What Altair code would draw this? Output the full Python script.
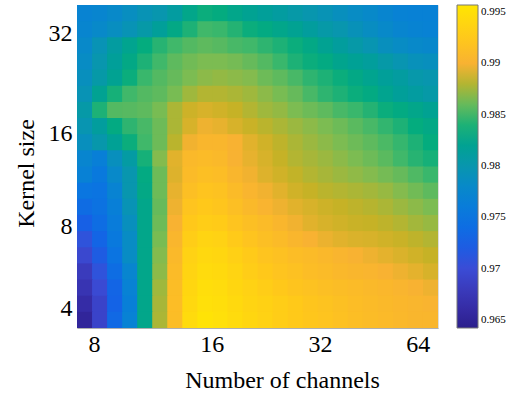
import altair as alt
import pandas as pd

# ---- values (top row = largest kernel size) ----
r00 = [0.9772,0.9775,0.9780,0.9788,0.9795,0.9800,0.9810,0.9825,0.9835,0.9832,0.9825,0.9820,0.9815,0.9810,0.9805,0.9800,0.9795,0.9790,0.9785,0.9780,0.9775,0.9770,0.9768,0.9768]
r01 = [0.9775,0.9780,0.9788,0.9795,0.9805,0.9815,0.9828,0.9840,0.9850,0.9848,0.9842,0.9835,0.9830,0.9825,0.9820,0.9812,0.9805,0.9800,0.9793,0.9787,0.9780,0.9775,0.9772,0.9770]
r02 = [0.9780,0.9795,0.9810,0.9822,0.9833,0.9843,0.9850,0.9855,0.9858,0.9856,0.9852,0.9850,0.9845,0.9840,0.9835,0.9828,0.9820,0.9812,0.9805,0.9798,0.9790,0.9785,0.9780,0.9778]
r03 = [0.9785,0.9800,0.9815,0.9828,0.9840,0.9850,0.9858,0.9863,0.9866,0.9866,0.9864,0.9860,0.9855,0.9848,0.9840,0.9835,0.9830,0.9823,0.9818,0.9813,0.9805,0.9798,0.9792,0.9790]
r04 = [0.9790,0.9805,0.9820,0.9835,0.9848,0.9855,0.9860,0.9866,0.9870,0.9872,0.9870,0.9868,0.9862,0.9858,0.9852,0.9845,0.9840,0.9835,0.9828,0.9822,0.9815,0.9810,0.9803,0.9800]
r05 = [0.9795,0.9820,0.9838,0.9850,0.9855,0.9858,0.9865,0.9875,0.9880,0.9880,0.9878,0.9875,0.9870,0.9865,0.9860,0.9852,0.9845,0.9840,0.9835,0.9830,0.9822,0.9815,0.9810,0.9805]
r06 = [0.9805,0.9840,0.9855,0.9856,0.9858,0.9865,0.9878,0.9887,0.9890,0.9888,0.9885,0.9880,0.9875,0.9872,0.9866,0.9862,0.9858,0.9852,0.9848,0.9842,0.9835,0.9830,0.9825,0.9820]
r07 = [0.9798,0.9812,0.9830,0.9845,0.9852,0.9862,0.9878,0.9890,0.9897,0.9895,0.9890,0.9886,0.9882,0.9878,0.9874,0.9870,0.9866,0.9862,0.9857,0.9852,0.9846,0.9840,0.9833,0.9828]
r08 = [0.9790,0.9802,0.9818,0.9835,0.9850,0.9862,0.9882,0.9898,0.9905,0.9905,0.9900,0.9893,0.9888,0.9883,0.9878,0.9874,0.9870,0.9866,0.9862,0.9858,0.9853,0.9847,0.9840,0.9833]
r09 = [0.9775,0.9765,0.9790,0.9808,0.9838,0.9868,0.9893,0.9908,0.9910,0.9908,0.9900,0.9895,0.9890,0.9885,0.9880,0.9877,0.9874,0.9870,0.9866,0.9862,0.9857,0.9850,0.9843,0.9838]
r10 = [0.9768,0.9755,0.9780,0.9800,0.9830,0.9862,0.9892,0.9910,0.9915,0.9913,0.9905,0.9898,0.9892,0.9888,0.9884,0.9880,0.9877,0.9874,0.9871,0.9868,0.9864,0.9860,0.9854,0.9848]
r11 = [0.9750,0.9748,0.9772,0.9800,0.9828,0.9862,0.9895,0.9915,0.9920,0.9918,0.9910,0.9903,0.9898,0.9893,0.9888,0.9885,0.9882,0.9880,0.9878,0.9876,0.9873,0.9868,0.9863,0.9858]
r12 = [0.9738,0.9745,0.9765,0.9795,0.9825,0.9860,0.9897,0.9920,0.9925,0.9922,0.9915,0.9908,0.9902,0.9897,0.9893,0.9890,0.9887,0.9885,0.9883,0.9881,0.9878,0.9874,0.9870,0.9866]
r13 = [0.9725,0.9740,0.9760,0.9790,0.9825,0.9862,0.9900,0.9925,0.9930,0.9928,0.9920,0.9915,0.9910,0.9905,0.9898,0.9893,0.9890,0.9888,0.9886,0.9885,0.9883,0.9880,0.9876,0.9873]
r14 = [0.9708,0.9730,0.9755,0.9785,0.9825,0.9865,0.9905,0.9930,0.9937,0.9935,0.9927,0.9920,0.9915,0.9910,0.9905,0.9900,0.9896,0.9893,0.9891,0.9890,0.9888,0.9886,0.9883,0.9880]
r15 = [0.9695,0.9720,0.9748,0.9785,0.9825,0.9868,0.9908,0.9935,0.9942,0.9940,0.9933,0.9927,0.9920,0.9917,0.9913,0.9910,0.9907,0.9903,0.9900,0.9897,0.9894,0.9891,0.9888,0.9885]
r16 = [0.9680,0.9708,0.9740,0.9775,0.9825,0.9870,0.9910,0.9938,0.9945,0.9943,0.9937,0.9930,0.9925,0.9920,0.9917,0.9913,0.9910,0.9907,0.9905,0.9903,0.9900,0.9897,0.9894,0.9890]
r17 = [0.9672,0.9698,0.9730,0.9770,0.9825,0.9875,0.9912,0.9940,0.9948,0.9946,0.9940,0.9935,0.9930,0.9925,0.9921,0.9918,0.9915,0.9912,0.9910,0.9908,0.9906,0.9903,0.9900,0.9897]
r18 = [0.9662,0.9690,0.9728,0.9765,0.9825,0.9877,0.9913,0.9942,0.9950,0.9948,0.9943,0.9938,0.9934,0.9930,0.9926,0.9922,0.9919,0.9916,0.9913,0.9910,0.9908,0.9906,0.9904,0.9902]
r19 = [0.9652,0.9690,0.9735,0.9770,0.9825,0.9878,0.9912,0.9945,0.9953,0.9950,0.9945,0.9940,0.9935,0.9930,0.9926,0.9923,0.9920,0.9917,0.9914,0.9911,0.9909,0.9907,0.9905,0.9905]
grid_rows = [r00, r01, r02, r03, r04, r05, r06, r07, r08, r09,
             r10, r11, r12, r13, r14, r15, r16, r17, r18, r19]

# tick positions in grid units and their labels
x_tick_pos = [1.13, 8.96, 16.15, 22.65]
x_tick_labels = ["8", "16", "32", "64"]
y_tick_pos = [1.75, 7.93, 13.73, 18.78]
y_tick_labels = ["32", "16", "8", "4"]

# colour bar
cb_ticks = [0.965, 0.97, 0.975, 0.98, 0.985, 0.99, 0.995]
color_stops = [0.9642, 0.9655, 0.9677, 0.9700, 0.9727, 0.9750, 0.9770, 0.9785,
               0.9800, 0.9817, 0.9833, 0.9850, 0.9867, 0.9885, 0.9900, 0.9925,
               0.9950, 0.9957]
color_hex = ["#2c1f8c", "#33279e", "#3a38b8", "#3a4cd6", "#1462e6", "#0a76e0",
             "#0882d4", "#088cc4", "#0896ae", "#00a096", "#04ac7e", "#40b86a",
             "#80bc50", "#c6b226", "#f8b232", "#ffc81a", "#ffe00a", "#ffe600"]

n_cols = len(r00)
n_rows = len(grid_rows)
overlap = 0.06  # tiny overlap between neighbouring cells to hide anti-aliasing seams

records = []
for j, row in enumerate(grid_rows):
    for i, v in enumerate(row):
        records.append({"c0": i, "c1": i + 1 + overlap, "r0": j, "r1": j + 1 + overlap, "acc": v})
df = pd.DataFrame(records)


def label_expr(pos, labels):
    expr = "''"
    for p, l in reversed(list(zip(pos, labels))):
        expr = f"abs(datum.value - {p}) < 0.01 ? '{l}' : ({expr})"
    return expr


FONT = "Liberation Serif"

color_scale = alt.Scale(domain=color_stops, range=color_hex, interpolate="rgb")

chart = alt.Chart(df).mark_rect(clip=True).encode(
    x=alt.X("c0:Q",
            scale=alt.Scale(domain=[0, n_cols], nice=False, zero=False),
            axis=alt.Axis(values=x_tick_pos, labelExpr=label_expr(x_tick_pos, x_tick_labels),
                          title="Number of channels", grid=False, ticks=False,
                          domain=True, domainColor="#b0b0b0", domainWidth=1,
                          labelFont=FONT, labelFontSize=24, labelColor="black",
                          labelPadding=4, labelFlush=False, labelOverlap=False,
                          titleFont=FONT, titleFontSize=24, titleFontWeight="normal",
                          titleColor="black", titleX=205, titleY=59,
                          titleBaseline="alphabetic", titleAlign="center")),
    x2="c1:Q",
    y=alt.Y("r0:Q",
            scale=alt.Scale(domain=[0, n_rows], nice=False, zero=False, reverse=True),
            axis=alt.Axis(values=y_tick_pos, labelExpr=label_expr(y_tick_pos, y_tick_labels),
                          title="Kernel size", grid=False, ticks=False, domain=False,
                          labelFont=FONT, labelFontSize=24, labelColor="black",
                          labelPadding=5, labelFlush=False, labelOverlap=False,
                          titleFont=FONT, titleFontSize=24, titleFontWeight="normal",
                          titleColor="black", titleX=-44, titleY=168,
                          titleBaseline="alphabetic", titleAlign="center", titleAngle=-90)),
    y2="r1:Q",
    color=alt.Color("acc:Q", scale=color_scale,
                    legend=alt.Legend(type="gradient", orient="none", legendX=380, legendY=0,
                                      direction="vertical", title=None,
                                      gradientLength=323, gradientThickness=21,
                                      gradientStrokeColor="#777777", gradientStrokeWidth=1,
                                      values=cb_ticks, format=".3~f",
                                      labelFont=FONT, labelFontSize=11, labelColor="black",
                                      labelOffset=3, labelOverlap=False, padding=0)),
).properties(
    width=361, height=323,
    padding={"left": 77, "top": 5, "right": 85, "bottom": 66},
    autosize="none",
).configure_view(stroke=None).configure(background="white")

chart.save("out.html", embed_options={"renderer": "svg", "actions": False})
